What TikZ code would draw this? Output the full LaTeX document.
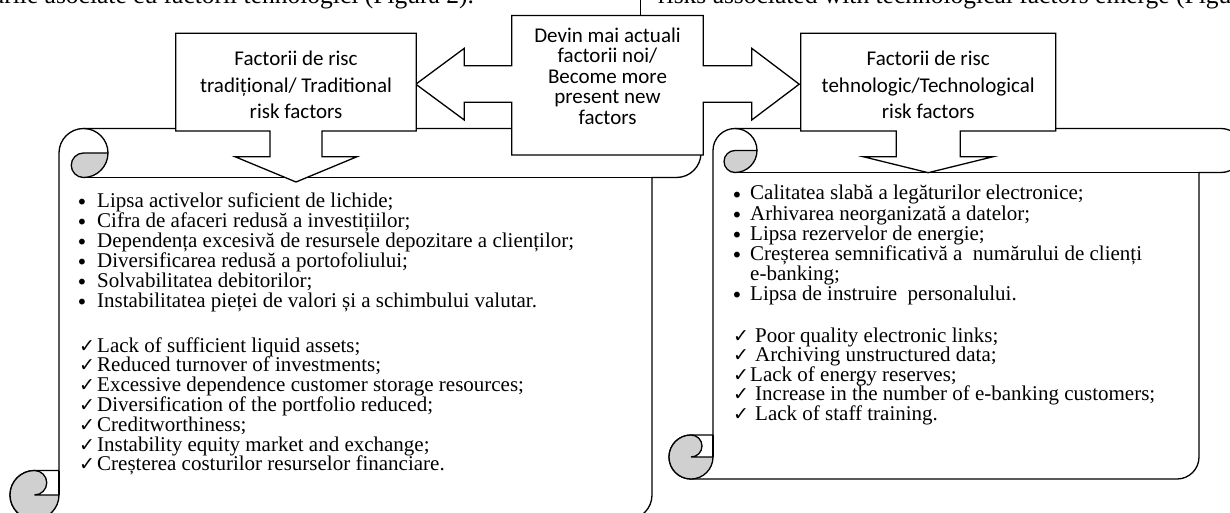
\documentclass[tikz,border=0pt]{standalone}
\usepackage{fontspec}
\setmainfont{Liberation Serif}
\newfontfamily\boxfont{Carlito}
\newfontfamily\symfont{DejaVu Sans}
\definecolor{rollgray}{RGB}{208,208,208}
\tikzset{
  outline/.style={draw=black, line width=1.3pt, line join=miter},
  listtxt/.style={anchor=base west, inner sep=0pt, font=\fontsize{21}{21}\selectfont},
  bul/.style={anchor=base, inner sep=0pt, font=\symfont\fontsize{20}{20}\selectfont},
  chk/.style={anchor=base west, inner sep=0pt, font=\symfont\fontsize{19}{19}\selectfont},
  boxtxt/.style={align=center, inner sep=0pt, font=\boxfont\fontsize{21}{26.7}\selectfont},
  toptxt/.style={inner sep=0pt, font=\fontsize{25.5}{25.5}\selectfont},
}
\newcommand{\drawscroll}[5]{%
  \pgfmathsetmacro{\qL}{#1}\pgfmathsetmacro{\qT}{#2}%
  \pgfmathsetmacro{\qR}{#3}\pgfmathsetmacro{\qB}{#4}%
  \pgfmathsetmacro{\qC}{#5}\pgfmathsetmacro{\qH}{#5/2}%
  \pgfmathsetlengthmacro{\qHr}{#5/2*1pt}\pgfmathsetlengthmacro{\qQr}{#5/4*1pt}%
  \filldraw[outline, fill=white] (\qL+\qC, \qB-\qC) -- (\qL+\qC, \qT+\qH)
    arc[start angle=180, end angle=90, radius=\qHr] -- (\qR-\qH, \qT)
    arc[start angle=90, end angle=-90, radius=\qHr] -- (\qR-\qC, \qT+\qC)
    -- (\qR-\qC, \qB-\qH)
    arc[start angle=0, end angle=-90, radius=\qHr] -- (\qL+\qH, \qB)
    arc[start angle=-90, end angle=-270, radius=\qHr] -- cycle;
  \draw[outline] (\qL+\qC+\qH, \qT+\qC) -- (\qR-\qC, \qT+\qC);
  \draw[outline] (\qL+\qC+\qH, \qT) arc[start angle=90, end angle=0, radius=\qHr];
  \filldraw[outline, fill=rollgray] (\qL+\qC+\qH, \qT+\qH) -- (\qL+\qC+\qC, \qT+\qH)
    arc[start angle=0, end angle=-90, radius=\qHr]
    arc[start angle=-90, end angle=-270, radius=\qQr] -- cycle;
  \filldraw[outline, fill=rollgray] (\qL+\qH, \qB-\qC)
    arc[start angle=90, end angle=360, radius=\qHr] -- (\qL+\qH, \qB-\qH)
    arc[start angle=-90, end angle=90, radius=\qQr] -- cycle;
  \draw[outline] (\qL+\qC, \qB-\qC) -- (\qL+\qC, \qB-\qH);
}
\begin{document}
\begin{tikzpicture}[x=1pt,y=-1pt]
\useasboundingbox (0,0) rectangle (1230,513);
\clip (0,0) rectangle (1230,513);
\fill[white] (0,0) rectangle (1230,513);

% clipped running text at the top
\node[toptxt, anchor=base east] (topl) at (474,4) {apar riscurile asociate cu factorii tehnologici (Figura 2).};
\node[toptxt, anchor=base west] (topr) at (658,4) {risks associated with technological factors emerge (Figure 2).};
\draw[line width=0.9pt] (640,0) -- (640,17);

% scrolls
\drawscroll{10}{128.5}{701}{519.5}{49}
\drawscroll{669}{128.5}{1243}{479}{44}

% centre left-right arrow callout
\filldraw[outline, fill=white] (511.7,15.5) -- (703.3,15.5) -- (703.3,65.7) -- (751.7,65.7)
  -- (751.7,48.3) -- (799.2,84.2) -- (751.7,120) -- (751.7,102.3) -- (703.3,102.3)
  -- (703.3,155) -- (511.7,155) -- (511.7,102.3) -- (464.3,102.3) -- (464.3,120)
  -- (415.8,84.2) -- (464.3,48.3) -- (464.3,65.7) -- (511.7,65.7) -- cycle;

% left down arrow callout
\filldraw[outline, fill=white] (175.7,33.3) -- (416.3,33.3) -- (416.3,131) -- (322,131)
  -- (322,156.7) -- (357,156.7) -- (296,182) -- (235,156.7) -- (270,156.7)
  -- (270,131) -- (175.7,131) -- cycle;

% right down arrow callout
\filldraw[outline, fill=white] (800.7,33.3) -- (1055.7,33.3) -- (1055.7,131) -- (960.2,131)
  -- (960.2,156.7) -- (993.2,156.7) -- (928.2,172.7) -- (863.2,156.7) -- (896.2,156.7)
  -- (896.2,131) -- (800.7,131) -- cycle;

\node[boxtxt] (lt) at (296,85) {Factorii de risc\\tradițional/ Traditional\\risk factors};
\node[boxtxt] (rt) at (928.2,85) {Factorii de risc\\tehnologic/Technological\\risk factors};
\node[boxtxt, font=\boxfont\fontsize{21}{20.5}\selectfont] (ct) at (607.5,76)
  {Devin mai actuali\\factorii noi/\\Become more\\present new\\factors};

% left list
\node[bul] (lb1) at (82,209) {•};
\node[bul] (lb2) at (82,229.1) {•};
\node[bul] (lb3) at (82,249.2) {•};
\node[bul] (lb4) at (82,269.3) {•};
\node[bul] (lb5) at (82,289.4) {•};
\node[bul] (lb6) at (82,309.5) {•};
\node[listtxt] (l1) at (97,207) {Lipsa activelor suficient de lichide;};
\node[listtxt] (l2) at (97,227.1) {Cifra de afaceri redusă a investițiilor;};
\node[listtxt] (l3) at (97,247.2) {Dependența excesivă de resursele depozitare a clienților;};
\node[listtxt] (l4) at (97,267.3) {Diversificarea redusă a portofoliului;};
\node[listtxt] (l5) at (97,287.4) {Solvabilitatea debitorilor;};
\node[listtxt] (l6) at (97,307.5) {Instabilitatea pieței de valori și a schimbului valutar.};
\node[chk] (lc1) at (79,352) {✓};
\node[chk] (lc2) at (79,371.8) {✓};
\node[chk] (lc3) at (79,391.6) {✓};
\node[chk] (lc4) at (79,411.4) {✓};
\node[chk] (lc5) at (79,431.2) {✓};
\node[chk] (lc6) at (79,451) {✓};
\node[chk] (lc7) at (79,470.8) {✓};
\node[listtxt] (l7) at (97,352) {Lack of sufficient liquid assets;};
\node[listtxt] (l8) at (97,371.8) {Reduced turnover of investments;};
\node[listtxt] (l9) at (97,391.6) {Excessive dependence customer storage resources;};
\node[listtxt] (l10) at (97,411.4) {Diversification of the portfolio reduced;};
\node[listtxt] (l11) at (97,431.2) {Creditworthiness;};
\node[listtxt] (l12) at (97,451) {Instability equity market and exchange;};
\node[listtxt] (l13) at (97,470.8) {Creșterea costurilor resurselor financiare.};

% right list
\node[bul] (rb1) at (737,202) {•};
\node[bul] (rb2) at (737,222) {•};
\node[bul] (rb3) at (737,242) {•};
\node[bul] (rb4) at (737,262) {•};
\node[bul] (rb5) at (737,302) {•};
\node[listtxt] (r1) at (750,200) {Calitatea slabă a legăturilor electronice;};
\node[listtxt] (r2) at (750,220) {Arhivarea neorganizată a datelor;};
\node[listtxt] (r3) at (750,240) {Lipsa rezervelor de energie;};
\node[listtxt] (r4) at (750,260) {Creșterea semnificativă a~ numărului de clienți};
\node[listtxt] (r4b) at (750,280) {e-banking;};
\node[listtxt] (r5) at (750,300) {Lipsa de instruire~ personalului.};
\node[chk] (rc1) at (733,342.5) {✓};
\node[chk] (rc2) at (733,361.9) {✓};
\node[chk] (rc3) at (733,381.3) {✓};
\node[chk] (rc4) at (733,400.7) {✓};
\node[chk] (rc5) at (733,420.1) {✓};
\node[listtxt] (r6) at (755,342.5) {Poor quality electronic links;};
\node[listtxt] (r7) at (755,361.9) {Archiving unstructured data;};
\node[listtxt] (r8) at (750,381.3) {Lack of energy reserves;};
\node[listtxt] (r9) at (755,400.7) {Increase in the number of e-banking customers;};
\node[listtxt] (r10) at (755,420.1) {Lack of staff training.};
\end{tikzpicture}
\end{document}
